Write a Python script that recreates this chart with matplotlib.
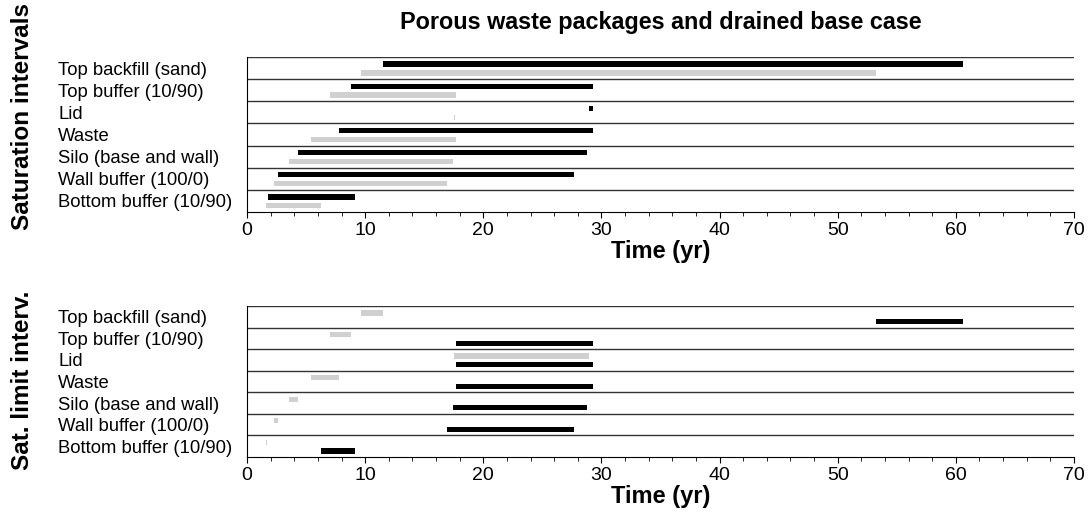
import matplotlib
matplotlib.use("Agg")
import matplotlib.pyplot as plt
from matplotlib.ticker import MultipleLocator

plt.rcParams['font.family'] = ['Liberation Sans', 'DejaVu Sans']

# Components, listed top to bottom
components = ["Top backfill (sand)", "Top buffer (10/90)", "Lid", "Waste",
              "Silo (base and wall)", "Wall buffer (100/0)", "Bottom buffer (10/90)"]

# Saturation intervals (yr): black = one case, grey = the other
sat_black_start = [11.5, 8.8, 28.95, 7.75, 4.35, 2.65, 1.8]
sat_black_end = [60.6, 29.3, 29.3, 29.3, 28.8, 27.7, 9.15]
sat_grey_start = [9.65, 7.0, 17.5, 5.45, 3.55, 2.25, 1.6]
sat_grey_end = [53.2, 17.7, 17.6, 17.7, 17.4, 16.9, 6.3]

# Saturation limit intervals (yr)
lim_grey_start = [9.65, 7.0, 17.5, 5.45, 3.55, 2.25, 1.6]
lim_grey_end = [11.5, 8.8, 28.95, 7.75, 4.35, 2.65, 1.72]
lim_black_start = [53.2, 17.7, 17.7, 17.7, 17.4, 16.9, 6.3]
lim_black_end = [60.6, 29.3, 29.3, 29.3, 28.8, 27.7, 9.15]

BLACK = "#000000"
GREY = "#d0d0d0"


def draw_panel(ax, black_s, black_e, grey_s, grey_e, black_off, grey_off):
    n = len(components)
    for i in range(n):
        row = n - 1 - i  # row index from bottom
        ax.barh(row + black_off, black_e[i] - black_s[i], left=black_s[i],
                height=0.24, color=BLACK, zorder=3)
        ax.barh(row + grey_off, grey_e[i] - grey_s[i], left=grey_s[i],
                height=0.24, color=GREY, zorder=2)
    # row separators
    for k in range(1, n + 1):
        ax.axhline(k - 0.5, color="#333333", lw=1.0, zorder=1)
    ax.set_ylim(-0.5, n - 0.5)
    ax.set_xlim(0, 70)
    ax.set_yticks(range(n))
    ax.set_yticklabels(components[::-1], ha="left", fontsize=13.3)
    ax.tick_params(axis="y", length=0, pad=136)
    ax.xaxis.set_major_locator(MultipleLocator(10))
    ax.xaxis.set_minor_locator(MultipleLocator(2))
    ax.tick_params(axis="x", which="major", length=4, labelsize=14, pad=3)
    ax.tick_params(axis="x", which="minor", length=3)
    ax.spines["right"].set_visible(False)
    ax.spines["top"].set_visible(False)
    ax.set_xlabel("Time (yr)", fontsize=17, fontweight="bold", labelpad=1)


fig = plt.figure(figsize=(10.91, 5.24), dpi=100)
ax1 = fig.add_axes([0.2264, 0.5954, 0.758, 0.2958])
ax2 = fig.add_axes([0.2264, 0.1279, 0.758, 0.2881])

draw_panel(ax1, sat_black_start, sat_black_end, sat_grey_start, sat_grey_end,
           0.18, -0.22)
draw_panel(ax2, lim_black_start, lim_black_end, lim_grey_start, lim_grey_end,
           -0.22, 0.18)

ax1.set_title("Porous waste packages and drained base case", fontsize=16.8,
              fontweight="bold", pad=20)

fig.text(0.021, 1 - 117 / 524, "Saturation intervals", rotation=90,
         fontsize=17.5, fontweight="bold", ha="center", va="center")
fig.text(0.021, 1 - 380 / 524, "Sat. limit interv.", rotation=90,
         fontsize=17.5, fontweight="bold", ha="center", va="center")

fig.savefig("out.png", dpi=100)
